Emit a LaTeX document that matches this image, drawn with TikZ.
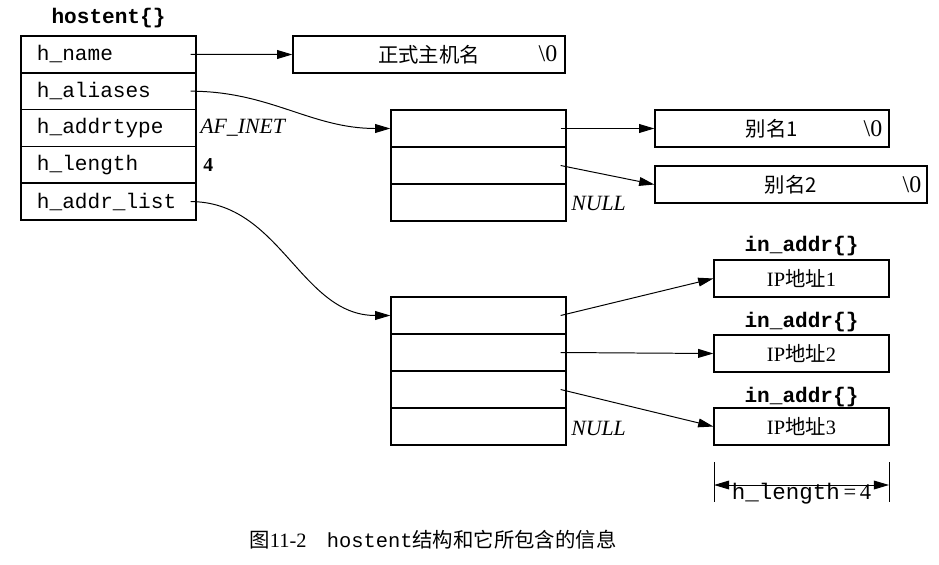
\documentclass[tikz,border=0pt]{standalone}
\usepackage{fontspec}
\setmainfont{Liberation Serif}
\setmonofont{Liberation Mono}
\newfontfamily\cjk{Noto Sans CJK SC}
\usetikzlibrary{arrows.meta}

\begin{document}
\begin{tikzpicture}[x=0.25mm,y=-0.25mm]
\useasboundingbox (0,0) rectangle (939,564);
% boxes
\begin{scope}[every node/.style={draw,line width=0.9pt,minimum height=9.25mm,inner sep=0pt,
                                 font=\fontsize{14.5}{16}\selectfont},
              field/.style={minimum width=43.75mm,text width=35.75mm,align=left,
                            font=\ttfamily\fontsize{15}{18}\selectfont},
              slot/.style={minimum width=43.75mm}]
    \node[field] (hname) at (108.5,54.4) {h\_name};
    \node[field] (haliases) at (108.5,91.2) {h\_aliases};
    \node[field] (haddrtype) at (108.5,128.0) {h\_addrtype};
    \node[field] (hlength) at (108.5,164.8) {h\_length};
    \node[field] (haddrlist) at (108.5,201.6) {h\_addr\_list};
    \node[minimum width=68mm] (official) at (429,54.5) {\cjk 正式主机名};
    \node[slot] (al1) at (478.5,128.5) {};
    \node[slot] (al2) at (478.5,165.5) {};
    \node[slot] (al3) at (478.5,202.5) {};
    \node[minimum width=58.5mm] (alias1) at (772,128.5) {\cjk 别名1};
    \node[minimum width=68mm] (alias2) at (791,184.5) {\cjk 别名2};
    \node[slot] (ad1) at (478.5,315.5) {};
    \node[slot] (ad2) at (478.5,352.5) {};
    \node[slot] (ad3) at (478.5,389.5) {};
    \node[slot] (ad4) at (478.5,426.5) {};
    \node[slot] (ip1) at (801.5,278.5) {IP{\cjk 地址}1};
    \node[slot] (ip2) at (801.5,353.5) {IP{\cjk 地址}2};
    \node[slot] (ip3) at (801.5,426.5) {IP{\cjk 地址}3};
\end{scope}
% plain texts
\begin{scope}[every node/.style={inner sep=0pt,font=\fontsize{14.5}{16}\selectfont},
              title/.style={font=\ttfamily\bfseries\fontsize{15}{18}\selectfont},
              value/.style={anchor=west,font=\itshape\fontsize{15.5}{18}\selectfont}]
    \node[title] (thostent) at (108.5,18) {hostent\{\}};
    \node[title] (tin1) at (801.5,246) {in\_addr\{\}};
    \node[title] (tin2) at (801.5,322) {in\_addr\{\}};
    \node[title] (tin3) at (801.5,397) {in\_addr\{\}};
    \node[value] (afinet) at (200,128) {AF\_INET};
    \node[value,font=\bfseries\fontsize{14}{16}\selectfont] (four) at (203,165) {4};
    \node[value] (null1) at (571,203) {NULL};
    \node[value] (null2) at (571,428) {NULL};
    \node[font=\fontsize{17}{18}\selectfont] (nul0) at (548,54) {\textbackslash 0};
    \node[font=\fontsize{17}{18}\selectfont] (nul1) at (873,128.5) {\textbackslash 0};
    \node[font=\fontsize{17}{18}\selectfont] (nul2) at (912,184.5) {\textbackslash 0};
    \node (hlen) at (801.5,494) {\ttfamily\fontsize{16}{18}\selectfont h\_length\rmfamily\,=\,4};
    \node (caption) at (433,540) {{\cjk 图}11-2\quad\texttt{hostent}{\cjk 结构和它所包含的信息}};
    \coordinate (dl) at (714,485);
    \coordinate (dr) at (889,485);
\end{scope}
% pointers
\begin{scope}[>={Triangle[length=3.8mm,width=2.2mm]},
              link/.style={draw,line width=0.7pt},
              tick/.style={draw,line width=0.7pt}]
    \path [->] ([xshift=-1.5mm]hname.east) edge [link] (official.west);
    \path [->] ([xshift=-1.5mm]haliases.east) edge [link,out=0,in=180] (al1.west);
    \path [->] ([xshift=-1.5mm]al1.east) edge [link] (alias1.west);
    \path [->] ([xshift=-1.5mm]al2.east) edge [link] (alias2.west);
    \path [->] ([xshift=-1.5mm]haddrlist.east) edge [link,out=0,in=180] (ad1.west);
    \path [->] ([xshift=-1.5mm]ad1.east) edge [link] (ip1.west);
    \path [->] ([xshift=-1.5mm]ad2.east) edge [link] (ip2.west);
    \path [->] ([xshift=-1.5mm]ad3.east) edge [link] (ip3.west);
    \path [<->] (dl) edge [link] (dr);
    \path ([yshift=5.75mm]dl) edge [tick] ([yshift=-4.25mm]dl);
    \path ([yshift=5.75mm]dr) edge [tick] ([yshift=-4.25mm]dr);
\end{scope}
\end{tikzpicture}
\end{document}
